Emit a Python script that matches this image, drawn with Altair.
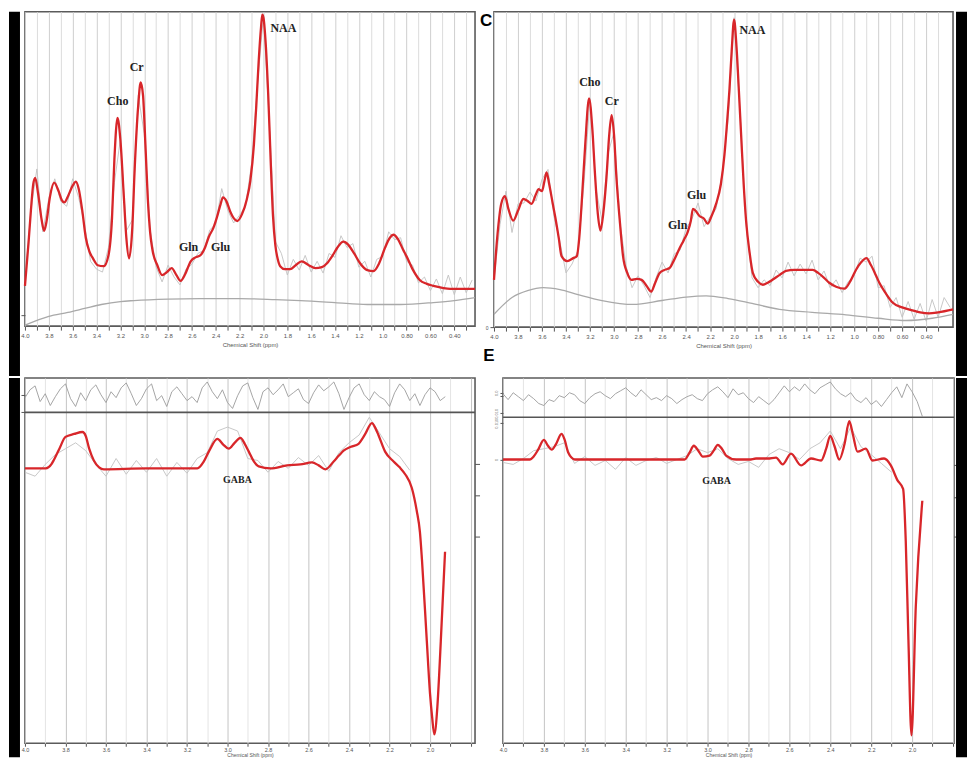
import altair as alt
import pandas as pd

# ---------------- Top-left spectrum ----------------
tl_fit_ppm = [4.00, 3.97, 3.95, 3.93, 3.914, 3.89, 3.86, 3.84, 3.82, 3.79, 3.755, 3.72, 3.69, 3.67, 3.64, 3.60,
              3.573, 3.55, 3.52, 3.49, 3.46, 3.43, 3.39, 3.34, 3.30, 3.27, 3.25, 3.224, 3.20, 3.17, 3.15, 3.127,
              3.10, 3.08, 3.05, 3.03, 3.01, 2.99, 2.97, 2.95, 2.93, 2.89, 2.85, 2.81, 2.77, 2.73, 2.695, 2.66,
              2.61, 2.57, 2.53, 2.49, 2.458, 2.42, 2.39, 2.36, 2.34, 2.31, 2.28, 2.25, 2.22, 2.18, 2.14, 2.11,
              2.08, 2.06, 2.04, 2.02, 2.01, 2.00, 1.98, 1.96, 1.94, 1.92, 1.90, 1.88, 1.86, 1.82, 1.776, 1.73,
              1.68, 1.62, 1.565, 1.51, 1.467, 1.42, 1.38, 1.33, 1.29, 1.24, 1.19, 1.13, 1.077, 1.03, 0.98, 0.94,
              0.91, 0.87, 0.83, 0.80, 0.75, 0.69, 0.63, 0.575, 0.50, 0.435, 0.35, 0.226]
tl_fit_v = [41, 85, 118, 145, 151, 135, 108, 97, 106, 132, 146, 138, 128, 126, 132, 143,
            147, 140, 118, 90, 76, 69, 62, 61, 72, 110, 170, 212, 190, 130, 90, 69,
            100, 160, 225, 248, 235, 185, 130, 95, 77, 62, 52, 55, 59, 52, 46, 52,
            66, 70, 72, 80, 91, 100, 111, 124, 131, 127, 117, 110, 107, 114, 129, 148,
            185, 225, 270, 305, 317, 314, 285, 235, 170, 112, 82, 68, 61, 58, 58, 62,
            66, 62, 59, 60, 64, 72, 80, 86, 83, 74, 64, 57, 56, 64, 80, 90,
            93, 88, 78, 71, 58, 47, 43, 41, 39, 38, 38, 38]
tl_raw_v = [45, 118, 160, 96, 130, 150, 127, 122, 150, 131, 103, 66, 58, 55, 80, 146, 190, 97, 108, 235,
            196, 98, 60, 45, 62, 50, 42, 58, 63, 74, 77, 98, 104, 140, 118, 105, 113, 122, 165, 246,
            316, 205, 86, 74, 52, 68, 57, 72, 55, 66, 54, 74, 70, 92, 80, 84, 60, 66, 50, 68,
            71, 96, 88, 90, 66, 62, 44, 50, 36, 48, 33, 52, 32, 50, 34, 47]
tl_base_ppm = [4.0, 3.8, 3.64, 3.5, 3.36, 3.2, 3.087, 2.8, 2.53, 2.2, 1.9, 1.69, 1.4, 1.13, 0.85, 0.575, 0.4, 0.226]
tl_base_v = [1, 10, 14, 18, 22, 25, 26, 27.5, 28, 28, 27, 26, 24, 22, 22, 24, 26, 29]
tl_lbl_text = ["Cho", "Cr", "Gln", "Glu", "NAA"]
tl_lbl_ppm = [3.222, 3.063, 2.628, 2.36, 1.833]
tl_lbl_v = [229, 264, 81, 81, 303]

# ---------------- Top-right spectrum ----------------
tr_fit_ppm = [4.00, 3.97, 3.94, 3.909, 3.88, 3.84, 3.80, 3.756, 3.72, 3.687, 3.65, 3.63, 3.60, 3.58, 3.562,
              3.54, 3.51, 3.49, 3.46, 3.437, 3.39, 3.34, 3.31, 3.29, 3.27, 3.24, 3.208, 3.18, 3.16, 3.135,
              3.113, 3.09, 3.063, 3.04, 3.02, 3.00, 2.98, 2.95, 2.925, 2.89, 2.855, 2.81, 2.77, 2.73, 2.69,
              2.66, 2.62, 2.58, 2.537, 2.50, 2.454, 2.42, 2.385, 2.36, 2.343, 2.32, 2.29, 2.25, 2.22, 2.19,
              2.15, 2.11, 2.08, 2.06, 2.038, 2.02, 2.00, 1.98, 1.96, 1.94, 1.92, 1.90, 1.87, 1.844, 1.80,
              1.76, 1.72, 1.68, 1.62, 1.567, 1.50, 1.42, 1.345, 1.30, 1.25, 1.207, 1.15, 1.08, 1.03, 0.985,
              0.94, 0.897, 0.86, 0.82, 0.79, 0.74, 0.68, 0.60, 0.514, 0.45, 0.376, 0.30, 0.176]
tr_fit_v = [48, 95, 125, 133, 120, 108, 118, 130, 128, 125, 135, 140, 138, 148, 157,
            145, 125, 112, 90, 72, 67, 70, 72, 90, 125, 185, 232, 200, 158, 115,
            98, 115, 152, 195, 215, 195, 152, 105, 72, 55, 48, 49, 48, 42, 36,
            44, 55, 58, 60, 68, 80, 88, 97, 108, 120, 118, 113, 110, 105, 112,
            125, 145, 175, 205, 242, 280, 312, 285, 240, 192, 145, 108, 75, 55, 46,
            43, 45, 48, 53, 57, 58, 58, 58, 55, 50, 45, 41, 39, 47, 58,
            66, 70, 63, 53, 45, 35, 25, 20, 17, 15, 14, 15, 18]
tr_raw_v = [48, 104, 138, 96, 125, 126, 137, 128, 150, 160, 112, 86, 55, 64, 78, 146, 232, 140, 108, 176,
            198, 106, 62, 40, 52, 42, 30, 50, 66, 55, 74, 78, 100, 110, 126, 102, 112, 120, 155, 210,
            314, 218, 104, 50, 40, 48, 42, 58, 50, 66, 52, 64, 54, 68, 48, 57, 40, 48, 35, 46,
            52, 70, 66, 72, 40, 42, 20, 30, 10, 26, 8, 24, 6, 28, 10, 30, 20]
tr_base_ppm = [4.0, 3.85, 3.72, 3.59, 3.45, 3.3, 3.1, 2.842, 2.6, 2.4, 2.232, 2.05, 1.85, 1.622, 1.35, 1.068,
               0.8, 0.569, 0.35, 0.176]
tr_base_v = [13, 30, 37, 40, 38, 33, 27, 23, 27, 30.5, 31.7, 29, 24, 18, 15, 12.5, 9, 6.7, 9, 13]
tr_lbl_text = ["Cho", "Cr", "Gln", "Glu", "NAA"]
tr_lbl_ppm = [3.202, 3.019, 2.47, 2.312, 1.847]
tr_lbl_v = [249, 229, 104, 134, 301]

# ---------------- Bottom-left GABA spectrum ----------------
bl_fit_ppm = [4.00, 3.897, 3.87, 3.856, 3.83, 3.80, 3.757, 3.716, 3.70, 3.683, 3.66, 3.634, 3.61, 3.40, 3.149,
              3.117, 3.09, 3.05, 3.02, 2.994, 2.965, 2.936, 2.915, 2.895, 2.87, 2.846, 2.788, 2.706, 2.64,
              2.583, 2.55, 2.517, 2.476, 2.45, 2.427, 2.39, 2.353, 2.335, 2.32, 2.287, 2.27, 2.255, 2.222,
              2.18, 2.15, 2.123, 2.09, 2.066, 2.05, 2.04, 2.016, 2.00, 1.99, 1.979, 1.964, 1.955, 1.947, 1.926]
bl_fit_v = [280, 280, 284, 289, 300, 312, 315, 317, 313, 300, 288, 281, 279, 280, 280,
            287, 298, 310, 304, 300, 306, 311, 305, 297, 287, 282, 280, 283, 284,
            286, 283, 279, 287, 293, 298, 302, 305, 310, 315, 326, 321, 314, 297,
            287, 281, 274, 260, 237, 215, 187, 104, 50, 27, 9, 37, 70, 104, 195]
bl_raw_v = [276, 272, 284, 294, 300, 306, 298, 284, 272, 290, 274, 288, 276, 290, 272, 286, 275, 290, 296, 318,
            322, 318, 290, 288, 276, 287, 280, 291, 283, 293, 277, 296, 306, 314, 332, 316, 300, 292, 278]
bl_res_v = [352, 360, 364, 348, 356, 344, 353, 361, 366, 351, 343, 357, 349, 360, 365, 355, 347, 358, 352, 362,
            367, 356, 344, 351, 361, 366, 349, 354, 343, 358, 363, 356, 349, 353, 347, 362, 368, 358, 351, 360,
            347, 341, 354, 364, 367, 352, 340, 358, 362, 355, 360, 366, 353, 357, 361, 350, 346, 357, 365, 359,
            363, 368, 356, 340, 352, 362, 366, 355, 349, 358, 353, 350, 343, 357, 366, 360, 349, 356, 344, 355,
            362, 358, 349, 353]
bl_sep_v = [337]
bl_right_ticks = [284, 252, 210]
bl_lbl_text = ["GABA"]
bl_lbl_ppm = [2.951]
bl_lbl_v = [268]

# ---------------- Bottom-right GABA spectrum ----------------
br_fit_ppm = [4.00, 3.868, 3.85, 3.828, 3.80, 3.78, 3.762, 3.74, 3.714, 3.70, 3.681, 3.665, 3.649, 3.112, 3.088,
              3.067, 3.045, 3.023, 2.99, 2.97, 2.95, 2.93, 2.909, 2.86, 2.795, 2.763, 2.706, 2.665, 2.633,
              2.592, 2.543, 2.494, 2.445, 2.42, 2.40, 2.38, 2.356, 2.33, 2.307, 2.29, 2.267, 2.226, 2.194,
              2.137, 2.104, 2.072, 2.044, 2.031, 2.018, 2.003, 1.982, 1.95]
br_fit_v = [289, 289, 292, 299, 309, 303, 299, 305, 315, 310, 296, 291, 289, 289, 296,
            303, 298, 292, 293, 298, 304, 300, 293, 289, 289, 290, 290, 291, 284,
            295, 283, 290, 288, 300, 313, 303, 289, 305, 328, 315, 297, 300, 288,
            290, 283, 268, 259, 206, 106, 8, 139, 247]
br_raw_v = [286, 284, 290, 298, 300, 302, 306, 285, 292, 283, 288, 279, 291, 283, 288, 291, 285, 289, 293, 300,
            296, 300, 290, 284, 287, 281, 294, 300, 296, 289, 300, 306, 318, 300, 322, 302, 294, 285, 276]
br_res_v = [356, 350, 357, 353, 349, 355, 351, 346, 344, 350, 348, 354, 352, 357, 355, 349, 346, 352, 356, 358,
            354, 351, 356, 359, 362, 357, 353, 360, 355, 350, 352, 349, 354, 351, 346, 350, 353, 355, 351, 349,
            356, 360, 363, 358, 352, 361, 355, 357, 351, 347, 353, 349, 345, 350, 357, 364, 358, 363, 359, 366,
            360, 356, 362, 365, 368, 361, 356, 353, 357, 350, 347, 352, 345, 349, 343, 350, 357, 363, 352, 366,
            358, 348, 333]
br_sep_v = [332]
br_right_ticks = [283, 250, 210]
br_lbl_text = ["GABA"]
br_lbl_ppm = [2.956]
br_lbl_v = [267]

# ---------------- Axis ticks ----------------
top_ticks = [4.0, 3.9, 3.8, 3.7, 3.6, 3.5, 3.4, 3.3, 3.2, 3.1, 3.0, 2.9, 2.8, 2.7, 2.6, 2.5, 2.4, 2.3, 2.2,
             2.1, 2.0, 1.9, 1.8, 1.7, 1.6, 1.5, 1.4, 1.3, 1.2, 1.1, 1.0, 0.9, 0.8, 0.7, 0.6, 0.5, 0.4, 0.3]
bottom_ticks = [4.0, 3.9, 3.8, 3.7, 3.6, 3.5, 3.4, 3.3, 3.2, 3.1, 3.0, 2.9, 2.8, 2.7, 2.6, 2.5, 2.4, 2.3,
                2.2, 2.1, 2.0, 1.9, 1.8]
br_ytick_values = [357, 354, 336, 326, 289]
br_ytick_labels = ["0.0", "", "0.010", "0.010", "0"]

RED = "#d8262a"
GREY_RAW = "#c2c2c2"
GREY_BASE = "#a9a9a9"
AXC = "#555555"


def xenc(dom, ticks, label_expr, g_even, g_odd, tick, lfs, lpad, tfs, tpad):
    return alt.X(
        "ppm:Q",
        scale=alt.Scale(domain=dom, reverse=True, nice=False, zero=False),
        axis=alt.Axis(
            values=ticks, labelExpr=label_expr, title="Chemical Shift (ppm)",
            grid=True,
            gridColor={"condition": {"test": "round(datum.value*10) % 2 == 0", "value": g_even}, "value": g_odd},
            gridWidth=1, domain=False, ticks=True, tickSize=tick, tickColor=AXC, tickWidth=1,
            labelFontSize=lfs, labelColor="#555", labelPadding=lpad, labelOverlap=False, labelFlush=False,
            labelFont="Liberation Sans", titleFont="Liberation Sans",
            titleFontSize=tfs, titleFontWeight="normal", titleColor="#555", titlePadding=tpad,
        ),
    )


def yenc(dom, axis):
    return alt.Y("v:Q", scale=alt.Scale(domain=dom, nice=False, zero=False), axis=axis)


def line(df, X, Y, color, width, interp="linear"):
    return alt.Chart(df).mark_line(color=color, strokeWidth=width, interpolate=interp).encode(
        x=X, y=Y, order=alt.Order("ppm:Q", sort="descending"))


def labels(df, X, Y, size):
    return alt.Chart(df).mark_text(font="Liberation Serif", fontWeight="bold", fontSize=size,
                                   color="#222222").encode(x=X, y=Y, text="t:N")


def seq_ppm(vals, step):
    return [round(4.0 - step * i, 3) for i in range(len(vals))]


def strip(x0, x1, y0, y1):
    return alt.Chart(pd.DataFrame({"k": [0]})).mark_rect(color="black").encode(
        x=alt.value(x0), x2=alt.value(x1), y=alt.value(y0), y2=alt.value(y1))


def letter(t, x, y, baseline):
    return alt.Chart(pd.DataFrame({"t": [t]})).mark_text(
        font="Liberation Sans", fontWeight="bold", fontSize=17, color="black", align="center",
        baseline=baseline).encode(x=alt.value(x), y=alt.value(y), text="t:N")


top_expr = ("round(datum.value*10) % 2 == 0 ? (datum.value > 0.95 ? format(datum.value, '.1f') : "
            "format(datum.value, '.2f')) : ''")
bot_expr = "round(datum.value*10) % 2 == 0 && datum.value > 1.95 ? format(datum.value, '.1f') : ''"

TOP_H = 315
BOT_H = 366
GAP = 365        # top-row strips run down to the start of the bottom row
BOT_STRIP = 380  # bottom-row strips run to the page bottom

# ---- TL panel ----
X = xenc([0.226, 4.0], top_ticks, top_expr, "#cfcfcf", "#dcdcdc", 4, 6, 2, 6, 3)
Y = yenc([0, 320], alt.Axis(values=[11], labels=False, grid=False, domain=False, tickSize=4,
                            tickColor=AXC, title=None))
tl = alt.layer(
    line(pd.DataFrame({"ppm": seq_ppm(tl_raw_v, 0.05), "v": tl_raw_v}), X, Y, GREY_RAW, 0.9),
    line(pd.DataFrame({"ppm": tl_base_ppm, "v": tl_base_v}), X, Y, GREY_BASE, 1.3, "monotone"),
    line(pd.DataFrame({"ppm": tl_fit_ppm, "v": tl_fit_v}), X, Y, RED, 2.3, "monotone"),
    labels(pd.DataFrame({"ppm": tl_lbl_ppm, "v": tl_lbl_v, "t": tl_lbl_text}), X, Y, 12),
    strip(-16, -5, 0, GAP),
).properties(width=451, height=TOP_H)

# ---- TR panel ----
X = xenc([0.176, 4.0], top_ticks, top_expr, "#cfcfcf", "#dcdcdc", 4, 6, 2, 6, 3)
Y = yenc([0, 320], alt.Axis(values=[0], labels=True, grid=False, domain=False, tickSize=4,
                            tickColor=AXC, labelFontSize=5, labelColor="#555", title=None))
tr = alt.layer(
    line(pd.DataFrame({"ppm": seq_ppm(tr_raw_v, 0.05), "v": tr_raw_v}), X, Y, GREY_RAW, 0.9),
    line(pd.DataFrame({"ppm": tr_base_ppm, "v": tr_base_v}), X, Y, GREY_BASE, 1.3, "monotone"),
    line(pd.DataFrame({"ppm": tr_fit_ppm, "v": tr_fit_v}), X, Y, RED, 2.3, "monotone"),
    labels(pd.DataFrame({"ppm": tr_lbl_ppm, "v": tr_lbl_v, "t": tr_lbl_text}), X, Y, 12),
    letter("C", -8, 1, "top"),
    letter("E", -5, 345, "middle"),
    strip(463, 474, 0, GAP),
).properties(width=460, height=TOP_H + 1)


def gaba_panel(fit_ppm, fit_v, raw_v, res_v, sep_v, rticks, lbl_ppm, lbl_v, lbl_text, dom, width, yaxis, extra):
    X = xenc(dom, bottom_ticks, bot_expr, "#c4c4c4", "#e4e4e4", 3, 5.5, 1, 5, 0)
    Y = yenc([0, 372], yaxis)
    layers = [
        line(pd.DataFrame({"ppm": seq_ppm(res_v, 0.025), "v": res_v}), X, Y, "#9a9a9a", 0.9),
        line(pd.DataFrame({"ppm": seq_ppm(raw_v, 0.05), "v": raw_v}), X, Y, GREY_RAW, 0.9),
        alt.Chart(pd.DataFrame({"v": sep_v})).mark_rule(color=AXC, strokeWidth=1.6).encode(y=Y),
        line(pd.DataFrame({"ppm": fit_ppm, "v": fit_v}), X, Y, RED, 2.3, "monotone"),
        labels(pd.DataFrame({"ppm": lbl_ppm, "v": lbl_v, "t": lbl_text}), X, Y, 10),
        alt.Chart(pd.DataFrame({"v": rticks})).mark_rule(color=AXC, strokeWidth=1).encode(
            y=Y, x=alt.value(width), x2=alt.value(width + 5)),
    ] + extra
    return alt.layer(*layers).properties(width=width, height=BOT_H)


bl = gaba_panel(bl_fit_ppm, bl_fit_v, bl_raw_v, bl_res_v, bl_sep_v, bl_right_ticks, bl_lbl_ppm, bl_lbl_v,
                bl_lbl_text, [1.778, 4.0], 451,
                alt.Axis(values=[355, 337], labels=False, grid=False, domain=False, tickSize=4,
                         tickColor=AXC, title=None),
                [strip(-16, -5, 0, BOT_STRIP)])

br_expr = " : ".join(
    f"datum.value == {v} ? '{t}'" for v, t in zip(br_ytick_values, br_ytick_labels)) + " : ''"
br = gaba_panel(br_fit_ppm, br_fit_v, br_raw_v, br_res_v, br_sep_v, br_right_ticks, br_lbl_ppm, br_lbl_v,
                br_lbl_text, [1.795, 4.0], 452,
                alt.Axis(values=br_ytick_values, labelExpr=br_expr, labelAngle=270,
                         labelAlign="center", labelBaseline="bottom", labelFontSize=4, labelColor="#777",
                         labelOverlap=False, labelPadding=1, grid=False, domain=False, tickSize=3,
                         tickColor=AXC, title=None),
                [strip(454, 465, 0, BOT_STRIP)])

top = alt.hconcat(tl, tr, spacing=19, bounds="flush")
bottom = alt.hconcat(bl, br, spacing=28, bounds="flush")
chart = alt.vconcat(top, bottom, spacing=0).properties(
    padding={"left": 0, "top": 0, "right": 0, "bottom": 0}, background="white"
).configure_view(stroke="#5b5b5b", strokeWidth=1.6)

chart.save("out.html", embed_options={"renderer": "svg", "actions": False})
